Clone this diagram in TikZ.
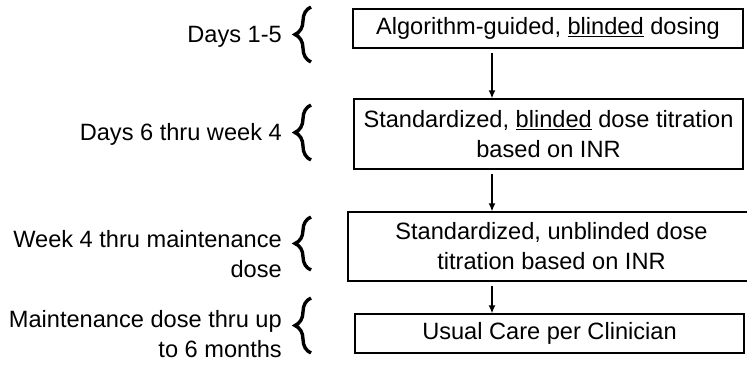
\documentclass[tikz,border=0pt]{standalone}
\usepackage{fontspec}
\setmainfont{Liberation Sans}
\usetikzlibrary{arrows.meta,decorations.pathreplacing}

\begin{document}
\begin{tikzpicture}[x=1pt,y=-1pt,font=\fontsize{23.6}{30}\selectfont]
		
		\tikzset{stage/.style = {shape=rectangle,draw,line width=1.3pt,inner sep=0pt,align=center,minimum height=39pt}}
		\tikzset{period/.style = {anchor=east,align=right,inner sep=0pt}}
		\tikzset{curly/.style = {decorate,decoration={brace,amplitude=16pt},line width=3.4pt}}
		\tikzset{edge/.style = {-{Latex[length=8pt,width=7pt]},line width=1.4pt,shorten <=4.5pt}}
		\useasboundingbox (0,0) rectangle (747,367);
		% stages
		\node[stage,minimum width=390pt] (dosing) at (548,28.5) {Algorithm-guided, \underline{blinded} dosing};
		\node[stage,minimum width=389pt,minimum height=70pt] (blind) at (548.5,134) {Standardized, \underline{blinded} dose titration\\based on INR};
		\node[stage,minimum width=407pt,minimum height=69pt] (unblind) at (551.5,246.5) {Standardized, unblinded dose\\titration based on INR};
		\node[stage,minimum width=389pt] (usual) at (549.5,333.5) {Usual Care per Clinician};
		% periods
		\node[period] (days) at (282,37) {Days 1-5};
		\node[period] (weeks) at (282,134.8) {Days 6 thru week 4};
		\node[period] (maint) at (282,253.7) {Week 4 thru maintenance\\dose};
		\node[period] (months) at (282,334) {Maintenance dose thru up\\to 6 months};
		% braces
		\draw[curly] (311,62) -- (311,7);
		\draw[curly] (311,160) -- (311,105);
		\draw[curly] (311,270) -- (311,217);
		\draw[curly] (311,353) -- (311,298);
		%edges
		\coordinate (ax) at (492,0);
		\draw[edge] (dosing.south -| ax) -- (blind.north -| ax);
		\draw[edge] (blind.south -| ax) -- (unblind.north -| ax);
		\draw[edge] (unblind.south -| ax) -- (usual.north -| ax);
		\end{tikzpicture}
\end{document}
